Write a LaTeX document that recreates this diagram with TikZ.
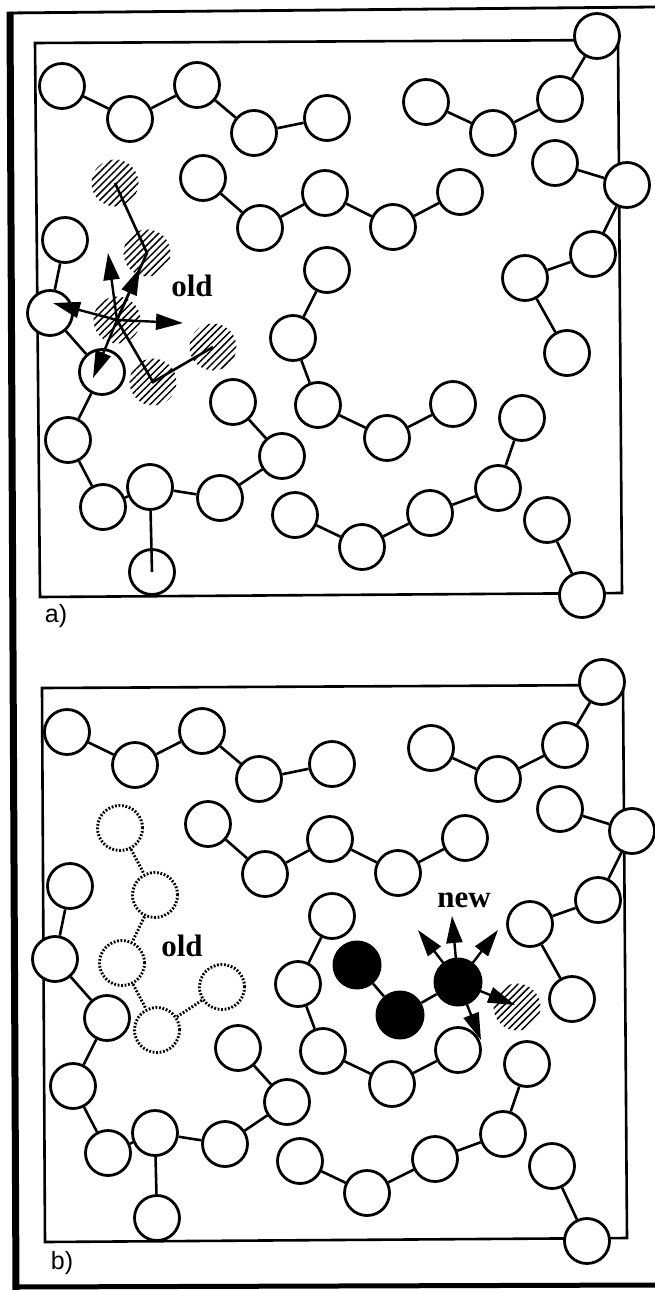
\documentclass[tikz,border=0pt]{standalone}
\usepackage{fontspec}
\setmainfont{Liberation Serif}
\newfontfamily\labelsf{Liberation Sans}
\usetikzlibrary{arrows.meta,patterns.meta}
\newcommand\commonchains[1]{%
  % chain 1
  \node[ball] (#1c11) at (62,86) {};
  \node[ball] (#1c12) at (130,119) {};
  \node[ball] (#1c13) at (197,85) {};
  \node[ball] (#1c14) at (254,133) {};
  \node[ball] (#1c15) at (327,118) {};
  % chain 2
  \node[ball] (#1c21) at (203,178) {};
  \node[ball] (#1c22) at (260,228) {};
  \node[ball] (#1c23) at (325,193) {};
  \node[ball] (#1c24) at (393,227) {};
  \node[ball] (#1c25) at (460,192) {};
  % chain 3
  \node[ball] (#1c31) at (327,270) {};
  \node[ball] (#1c32) at (293,338) {};
  \node[ball] (#1c33) at (318,405) {};
  \node[ball] (#1c34) at (387,438) {};
  \node[ball] (#1c35) at (453,404) {};
  % chain 4
  \node[ball] (#1c41) at (426,102) {};
  \node[ball] (#1c42) at (493,133) {};
  \node[ball] (#1c43) at (560,99) {};
  \node[ball] (#1c44) at (597,36) {};
  % chain 5
  \node[ball] (#1c51) at (555,163) {};
  \node[ball] (#1c52) at (627,185) {};
  \node[ball] (#1c53) at (593,254) {};
  \node[ball] (#1c54) at (525,278) {};
  \node[ball] (#1c55) at (567,353) {};
  % chain 6
  \node[ball] (#1c61) at (65,240) {};
  \node[ball] (#1c62) at (50,313) {};
  \node[ball] (#1c63) at (102,372) {};
  \node[ball] (#1c64) at (68,440) {};
  \node[ball] (#1c65) at (103,507) {};
  \node[ball] (#1c66) at (150,487) {};
  \node[ball] (#1c67) at (220,498) {};
  \node[ball] (#1c68) at (282,456) {};
  \node[ball] (#1c69) at (233,402) {};
  \node[ball] (#1c60) at (152,572) {};
  % chain 7
  \node[ball] (#1c71) at (295,515) {};
  \node[ball] (#1c72) at (362,547) {};
  \node[ball] (#1c73) at (430,513) {};
  \node[ball] (#1c74) at (498,488) {};
  \node[ball] (#1c75) at (522,418) {};
  % chain 8
  \node[ball] (#1c81) at (547,520) {};
  \node[ball] (#1c82) at (582,595) {};
  % bonds
  \draw[bond] (#1c11) -- (#1c12) -- (#1c13) -- (#1c14) -- (#1c15);
  \draw[bond] (#1c21) -- (#1c22) -- (#1c23) -- (#1c24) -- (#1c25);
  \draw[bond] (#1c31) -- (#1c32) -- (#1c33) -- (#1c34) -- (#1c35);
  \draw[bond] (#1c41) -- (#1c42) -- (#1c43) -- (#1c44);
  \draw[bond] (#1c51) -- (#1c52) -- (#1c53) -- (#1c54) -- (#1c55);
  \draw[bond] (#1c61) -- (#1c62) -- (#1c63) -- (#1c64) -- (#1c65) -- (#1c66) -- (#1c67) -- (#1c68) -- (#1c69);
  \draw[bond] (#1c71) -- (#1c72) -- (#1c73) -- (#1c74) -- (#1c75);
  \draw[bond] (#1c81) -- (#1c82);
}
\begin{document}
\begin{tikzpicture}[x=1pt,y=-1pt,
  ball/.style={circle,draw,line width=2.8pt,fill=white,minimum size=45pt,inner sep=0pt},
  hatchball/.style={circle,minimum size=47pt,inner sep=0pt,pattern={Lines[angle=45,distance=5pt,line width=1.5pt]}},
  oldball/.style={circle,draw,line width=2.9pt,dash pattern=on 1.8pt off 1.7pt,minimum size=45pt,inner sep=0pt},
  newball/.style={circle,fill=black,minimum size=49pt,inner sep=0pt},
  bond/.style={line width=2.6pt},
  oldbond/.style={line width=2.9pt,dash pattern=on 1.8pt off 1.7pt},
  box/.style={line width=2.6pt,line join=miter},
  push/.style={line width=2.4pt,-{Triangle[length=27pt,width=16pt]}},
  word/.style={font=\bfseries\fontsize{31}{31}\selectfont,inner sep=0pt},
  tag/.style={font=\labelsf\fontsize{25}{25}\selectfont,inner sep=0pt}
]
\useasboundingbox (0,0) rectangle (655,1290);
\fill[white] (0,0) rectangle (655,1290);
% outer frame
\draw[line width=7pt] (10,12) -- (16,1290);
\draw[line width=2.8pt] (7,13) -- (655,7);
\draw[line width=5pt] (13,1287) -- (655,1285);
% panel boxes
\draw[box] (35,43) -- (618,40) -- (622,593) -- (40,597) -- cycle;
\draw[box] (42,688) -- (623,685) -- (627,1238) -- (45,1242) -- cycle;

% ---------- panel a ----------
\commonchains{a}
\draw[bond] (ac66) -- (ac60.center);
\node[hatchball] (h1) at (115,183) {};
\node[hatchball] (h2) at (147,253) {};
\node[hatchball] (h3) at (117,320) {};
\node[hatchball] (h4) at (153,382) {};
\node[hatchball] (h5) at (213,347) {};
\draw[bond] (h1.center) -- (h2.center) -- (h3.center) -- (h4.center) -- (h5.center);
\coordinate (ta1) at (108,253);
\coordinate (ta2) at (140,268);
\coordinate (ta3) at (53,303);
\coordinate (ta4) at (183,323);
\coordinate (ta5) at (93,378);
\foreach \t in {ta1,ta2,ta3,ta4,ta5} \draw[push] (h3.center) -- (\t);
\node[word] (olda) at (192,286) {old};
\node[tag] (la) at (56,616) {a)};

% ---------- panel b ----------
\begin{scope}[shift={(5,646)}]
\commonchains{b}
\draw[bond] (bc66) -- (bc60);
\end{scope}
\node[oldball] (d1) at (120,828) {};
\node[oldball] (d2) at (155,895) {};
\node[oldball] (d3) at (122,963) {};
\node[oldball] (d4) at (157,1030) {};
\node[oldball] (d5) at (222,987) {};
\draw[oldbond] (d1) -- (d2) -- (d3) -- (d4) -- (d5);
\node[newball] (n1) at (357,965) {};
\node[newball] (n2) at (400,1015) {};
\node[newball] (n3) at (458,982) {};
\draw[bond] (n1) -- (n2) -- (n3);
\node[hatchball] (hb) at (517,1007) {};
\coordinate (tb1) at (418,930);
\coordinate (tb2) at (452,916);
\coordinate (tb3) at (498,930);
\coordinate (tb4) at (515,1005);
\coordinate (tb5) at (481,1040);
\foreach \t in {tb1,tb2,tb3,tb4,tb5} \draw[push] (n3.center) -- (\t);
\node[word] (oldb) at (182,946) {old};
\node[word] (newl) at (464,900) {new};
\node[tag] (lb) at (62,1263) {b)};
\end{tikzpicture}
\end{document}
